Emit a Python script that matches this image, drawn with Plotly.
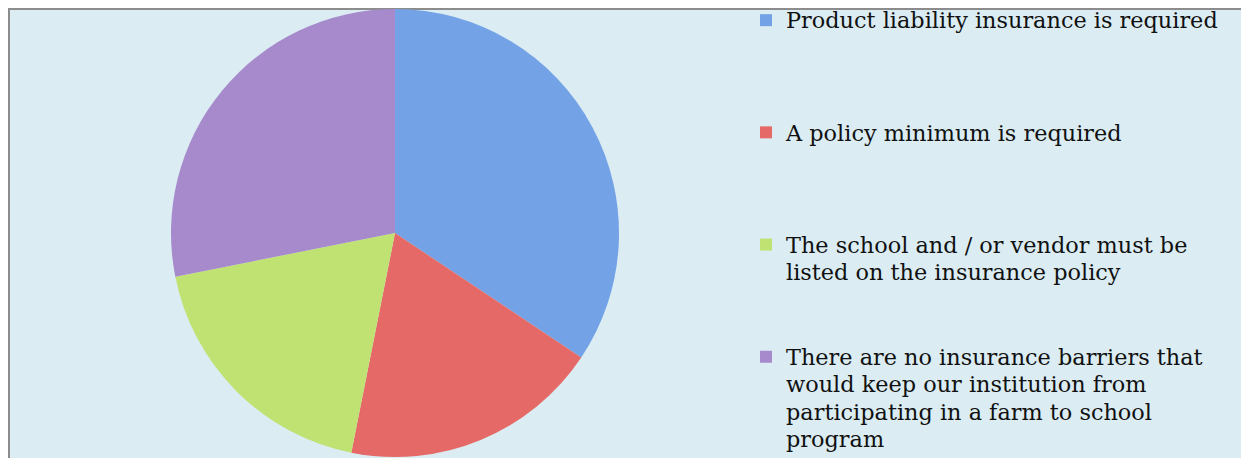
import plotly.graph_objects as go

W, H = 1249, 458

labels = [
    "Product liability insurance is required",
    "A policy minimum is required",
    "The school and / or vendor must be<br>listed on the insurance policy",
    "There are no insurance barriers that<br>would keep our institution from<br>participating in a farm to school<br>program",
]
values = [11, 6, 6, 9]
colors = ["#73A3E6", "#E56A67", "#C0E272", "#A68ACC"]
pad_lines = [3, 3, 2, 0]

legend_labels = [
    "<span style='font-size:22.4px'>" + l + "</span>" + "<br>&nbsp;" * p
    for l, p in zip(labels, pad_lines)
]

# page is offset by the browser's 8px body margin
cx, cy, r = 387, 225, 224

fig = go.Figure(go.Pie(
    labels=legend_labels,
    values=values,
    sort=False,
    direction="clockwise",
    rotation=0,
    marker=dict(colors=colors, line=dict(width=0)),
    textinfo="none",
    hoverinfo="percent",
    domain=dict(x=[(cx - r) / W, (cx + r) / W],
                y=[(H - cy - r) / H, (H - cy + r) / H]),
))

fig.add_shape(type="rect", xref="paper", yref="paper",
              x0=1 / W, x1=1.02, y0=-0.1, y1=1 - 1 / H,
              fillcolor="#DBEDF3", line=dict(color="#8C8C8C", width=2),
              layer="below")

fig.update_layout(
    width=W, height=H,
    margin=dict(l=0, r=0, t=0, b=0, autoexpand=False),
    paper_bgcolor="white",
    plot_bgcolor="white",
    showlegend=True,
    legend=dict(
        x=738 / W, y=1 + 8 / H, xanchor="left", yanchor="top",
        font=dict(family="DejaVu Serif", size=21, color="#111111"),
        bgcolor="rgba(0,0,0,0)",
        valign="top",
        tracegroupgap=0,
        maxheight=900,
    ),
)

fig.write_html("out.html")
